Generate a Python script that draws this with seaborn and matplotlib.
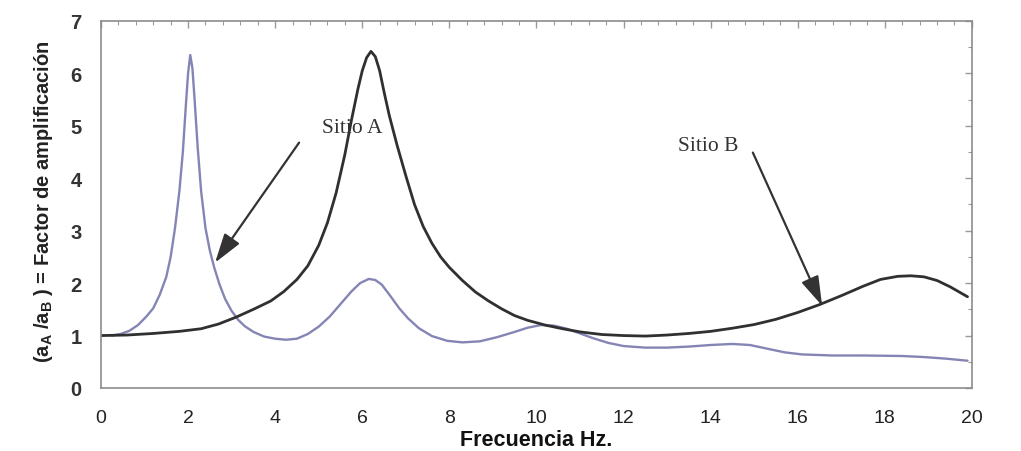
import matplotlib
matplotlib.use("Agg")
import matplotlib.pyplot as plt
import seaborn as sns
import pandas as pd
from matplotlib.ticker import MultipleLocator

# ---- data ----
freq_a = [0.25, 0.45, 0.65, 0.85, 1.05, 1.2, 1.35, 1.5, 1.6, 1.7, 1.8, 1.88, 1.95, 2.0,
          2.05, 2.1, 2.15, 2.22, 2.3, 2.4, 2.5, 2.6, 2.72, 2.85, 3.0, 3.15, 3.3, 3.5,
          3.75, 4.0, 4.25, 4.5, 4.75, 5.0, 5.25, 5.5, 5.75, 5.95, 6.15, 6.3, 6.45, 6.65,
          6.85, 7.05, 7.3, 7.6, 7.95, 8.3, 8.7, 9.1, 9.5, 9.8, 10.1, 10.4, 10.7, 11.0,
          11.3, 11.65, 12.0, 12.5, 13.0, 13.5, 14.0, 14.5, 14.9, 15.3, 15.7, 16.1, 16.8,
          17.5, 18.4, 18.9, 19.4, 19.9]
amp_a = [1.0, 1.03, 1.09, 1.2, 1.37, 1.52, 1.78, 2.12, 2.5, 3.05, 3.75, 4.5, 5.4, 6.0,
         6.35, 6.1, 5.5, 4.6, 3.75, 3.05, 2.62, 2.3, 1.98, 1.7, 1.47, 1.3, 1.18, 1.07,
         0.98, 0.94, 0.92, 0.94, 1.03, 1.17, 1.36, 1.6, 1.84, 2.0, 2.08, 2.06, 1.97, 1.75,
         1.52, 1.33, 1.14, 0.99, 0.9, 0.87, 0.89, 0.97, 1.07, 1.15, 1.2, 1.19, 1.13, 1.04,
         0.95, 0.86, 0.8, 0.77, 0.77, 0.79, 0.82, 0.84, 0.82, 0.75, 0.68, 0.64, 0.62,
         0.62, 0.61, 0.59, 0.56, 0.52]

freq_b = [0.0, 0.6, 1.2, 1.8, 2.3, 2.7, 3.1, 3.5, 3.9, 4.2, 4.5, 4.75, 5.0, 5.2, 5.4,
          5.6, 5.75, 5.9, 6.0, 6.1, 6.2, 6.3, 6.4, 6.5, 6.62, 6.8, 7.0, 7.2, 7.4, 7.6,
          7.8, 8.0, 8.3, 8.6, 8.9, 9.2, 9.5, 9.8, 10.2, 10.6, 11.0, 11.5, 12.0, 12.5,
          13.0, 13.5, 14.0, 14.5, 15.0, 15.5, 16.0, 16.5, 17.0, 17.5, 17.9, 18.3, 18.6,
          18.9, 19.2, 19.5, 19.9]
amp_b = [1.0, 1.01, 1.04, 1.08, 1.13, 1.22, 1.35, 1.5, 1.66, 1.84, 2.07, 2.33, 2.72,
         3.15, 3.72, 4.45, 5.1, 5.7, 6.05, 6.3, 6.42, 6.32, 6.05, 5.65, 5.2, 4.63, 4.05,
         3.5, 3.08, 2.76, 2.5, 2.3, 2.05, 1.83, 1.66, 1.51, 1.38, 1.29, 1.2, 1.13, 1.07,
         1.02, 1.0, 0.99, 1.01, 1.04, 1.08, 1.14, 1.21, 1.31, 1.44, 1.59, 1.76, 1.94,
         2.07, 2.13, 2.14, 2.12, 2.05, 1.93, 1.74]

x_ticks = [0, 2, 4, 6, 8, 10, 12, 14, 16, 18, 20]
y_ticks = [0, 1, 2, 3, 4, 5, 6, 7]

label_a = "Sitio A"
label_b = "Sitio B"
x_label = "Frecuencia Hz."
y_label = r"(a$_\mathbf{A}$ /a$_\mathbf{B}$ ) = Factor de amplificación"

df_a = pd.DataFrame({"f": freq_a, "amp": amp_a})
df_b = pd.DataFrame({"f": freq_b, "amp": amp_b})

sns.set_style("white")
plt.rcParams["font.family"] = ["Liberation Sans", "DejaVu Sans"]
plt.rcParams["mathtext.fontset"] = "custom"
plt.rcParams["mathtext.rm"] = "Liberation Sans:bold"
plt.rcParams["mathtext.bf"] = "Liberation Sans:bold"

fig = plt.figure(figsize=(10.21, 4.52), dpi=100)
ax = fig.add_axes([0.0989, 0.1394, 0.853, 0.812])

sns.lineplot(data=df_a, x="f", y="amp", ax=ax, color="#8585b5", lw=1.7, sort=False)
sns.lineplot(data=df_b, x="f", y="amp", ax=ax, color="#303030", lw=2.0, sort=False)

ax.set_xlim(0, 20)
ax.set_ylim(0, 7)
ax.set_xticks(x_ticks)
ax.set_yticks(y_ticks)
ax.xaxis.set_minor_locator(MultipleLocator(0.4))
ax.yaxis.set_minor_locator(MultipleLocator(0.5))
ax.tick_params(which="both", direction="in", top=True, right=True, color="#9a9a9a")
ax.tick_params(which="major", length=5, width=1)
ax.tick_params(which="minor", length=3, width=0.8)
ax.tick_params(axis="x", which="major", labelsize=14, pad=15, labelcolor="#222222")
ax.tick_params(axis="y", which="major", labelsize=14.5, pad=14, labelcolor="#333333")
for lab in ax.get_yticklabels():
    lab.set_fontweight("bold")

for s in ax.spines.values():
    s.set_color("#8c8c8c")
    s.set_linewidth(1.2)

ax.set_xlabel(x_label, fontsize=15.5, fontweight="bold", color="#111111")
ax.xaxis.set_label_coords(0.5, -0.112)
ax.set_ylabel(y_label, fontsize=14.5, fontweight="bold", color="#222222")
ax.yaxis.set_label_coords(-0.053, 0.51)

serif = ["Liberation Serif", "DejaVu Serif"]
ax.text(5.07, 4.97, label_a, family=serif, fontsize=15.5, color="#333333",
        ha="left", va="center")
ax.text(13.25, 4.63, label_b, family=serif, fontsize=15.5, color="#333333",
        ha="left", va="center")

arrow = dict(arrowstyle="-|>,head_length=0.9,head_width=0.28", color="#333333",
             lw=1.6, shrinkA=0, shrinkB=0, mutation_scale=20)
ax.annotate("", xy=(2.62, 2.39), xytext=(4.55, 4.68), arrowprops=arrow)
ax.annotate("", xy=(16.56, 1.57), xytext=(14.97, 4.49), arrowprops=arrow)

fig.savefig("out.png", dpi=100, facecolor="white")
